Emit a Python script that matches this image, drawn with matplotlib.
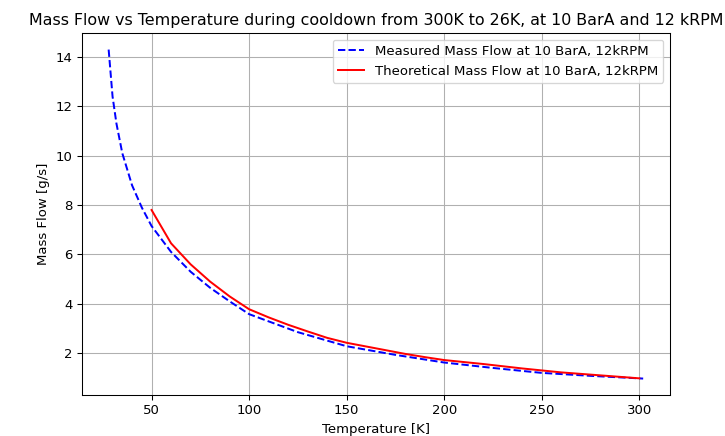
import numpy as np
import matplotlib.pyplot as plt

# measured mass flow
t_meas = [28, 30, 32, 35, 40, 45, 50, 60, 70, 80, 90, 100, 125, 150, 175, 200, 225, 250, 275, 302]
m_meas = [14.3, 12.4, 11.3, 10.1, 8.8, 7.9, 7.15, 6.1, 5.3, 4.65, 4.1, 3.58, 2.85, 2.28, 1.93, 1.62, 1.4, 1.2, 1.08, 0.97]

# theoretical mass flow
t_theo = [50, 60, 70, 80, 90, 100, 110, 120, 130, 140, 150, 160, 170, 180, 190, 200, 220, 240, 260, 280, 300]
m_theo = [7.8, 6.45, 5.6, 4.9, 4.3, 3.78, 3.45, 3.15, 2.88, 2.62, 2.42, 2.27, 2.12, 1.97, 1.84, 1.72, 1.56, 1.38, 1.22, 1.1, 0.98]

dpi = 95
fig = plt.figure(figsize=(725 / dpi, 436 / dpi), dpi=dpi)
ax = fig.add_axes([0.113, 0.094, 0.811, 0.83])
ax.plot(t_meas, m_meas, 'b--', label='Measured Mass Flow at 10 BarA, 12kRPM')
ax.plot(t_theo, m_theo, 'r-', label='Theoretical Mass Flow at 10 BarA, 12kRPM')
ax.set_xlabel('Temperature [K]')
ax.set_ylabel('Mass Flow [g/s]')
ax.set_title('Mass Flow vs Temperature during cooldown from 300K to 26K, at 10 BarA and 12 kRPM')
ax.grid(True)
ax.legend(loc='upper right')
plt.savefig('out.png', dpi=dpi)
